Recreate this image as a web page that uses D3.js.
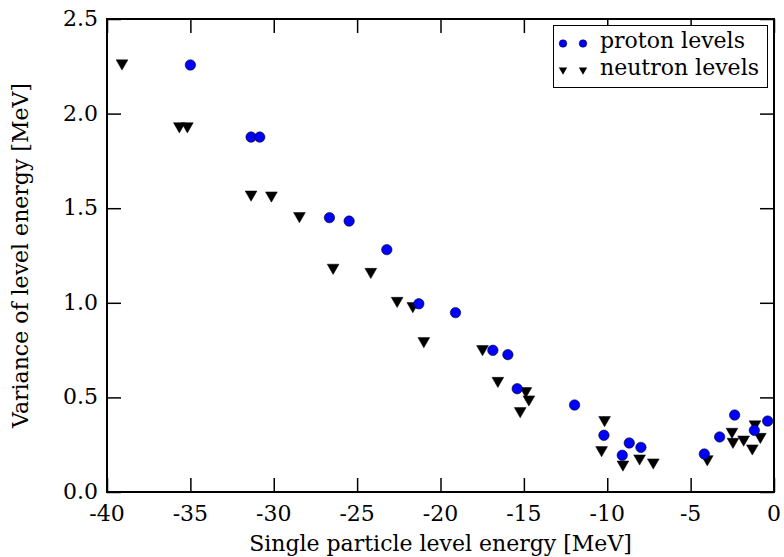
<!DOCTYPE html>
<html>
<head>
<meta charset="utf-8">
<script src="https://cdn.jsdelivr.net/npm/d3@7"></script>
</head>
<body style="margin: 0; background: #fff;">
<svg width="784" height="557"></svg>
<script>
// proton levels: single particle energy (MeV) and variance (MeV)
const protonE = [-35.0, -31.36, -30.84, -26.66, -25.48, -23.22, -21.3, -19.1, -16.86, -15.96,
  -15.4, -11.96, -10.2, -9.1, -8.68, -7.98, -4.18, -3.26, -2.36, -1.18, -0.38];
const protonVar = [2.257, 1.876, 1.876, 1.450, 1.432, 1.281, 0.995, 0.948, 0.749, 0.726,
  0.546, 0.460, 0.300, 0.194, 0.259, 0.236, 0.201, 0.291, 0.407, 0.326, 0.375];

// neutron levels
const neutronE = [-39.1, -35.66, -35.18, -31.36, -30.14, -28.46, -26.44, -24.18, -22.6, -21.66,
  -21.0, -17.48, -16.56, -15.22, -14.88, -14.7, -10.16, -10.34, -9.06, -8.06,
  -7.24, -4.0, -2.52, -2.46, -1.82, -1.3, -1.14, -0.82];
const neutronVar = [2.266, 1.934, 1.934, 1.573, 1.568, 1.459, 1.186, 1.164, 1.011, 0.983,
  0.798, 0.756, 0.588, 0.428, 0.534, 0.490, 0.381, 0.222, 0.146, 0.178,
  0.157, 0.174, 0.319, 0.266, 0.278, 0.231, 0.358, 0.292];

const xTicks = [-40, -35, -30, -25, -20, -15, -10, -5, 0];
const yTicks = [0.0, 0.5, 1.0, 1.5, 2.0, 2.5];

const svg = d3.select('svg');
const margin = { left: 107, right: 10, top: 19, bottom: 65 };
const width = 784, height = 557;

const x = d3.scaleLinear().domain([-40, 0]).range([margin.left, width - margin.right]);
const y = d3.scaleLinear().domain([0, 2.5]).range([height - margin.bottom, margin.top]);

const tickLen = 14;

// inward ticks on all four sides, no labels from the axis itself
const addAxis = (axis, tx, ty) => {
  const g = svg.append('g')
    .attr('transform', `translate(${tx},${ty})`)
    .call(axis.tickFormat(''));
  g.select('.domain').remove();
  g.selectAll('line').attr('stroke', '#000').attr('stroke-width', 1.5);
  return g;
};
addAxis(d3.axisBottom(x).tickValues(xTicks).tickSize(-tickLen), 0, y(0));
addAxis(d3.axisTop(x).tickValues(xTicks).tickSize(-tickLen), 0, y(2.5));
addAxis(d3.axisLeft(y).tickValues(yTicks).tickSize(-tickLen), x(-40), 0);
addAxis(d3.axisRight(y).tickValues(yTicks).tickSize(-tickLen), x(0), 0);

const label = (tx, ty, str, anchor) => svg.append('text')
  .attr('x', tx).attr('y', ty)
  .attr('font-size', 22)
  .attr('text-anchor', anchor || 'start')
  .style('font-family', '"DejaVu Serif"')
  .text(str);

// tick labels
xTicks.forEach(t => label(x(t), y(0) + 29, t, 'middle'));
yTicks.forEach(t => label(x(-40) - 9, y(t) + 7, d3.format('.1f')(t), 'end'));

// frame
svg.append('rect')
  .attr('x', x(-40)).attr('y', y(2.5))
  .attr('width', x(0) - x(-40)).attr('height', y(0) - y(2.5))
  .attr('fill', 'none').attr('stroke', '#000').attr('stroke-width', 2);

// axis titles
label((x(-40) + x(0)) / 2, 551, 'Single particle level energy [MeV]', 'middle');
label(0, 0, 'Variance of level energy [MeV]', 'middle')
  .attr('transform', `translate(28, ${(y(0) + y(2.5)) / 2}) rotate(-90)`);

// markers
const tri = d3.symbol().type(d3.symbolTriangle).size(60);
const triDown = (cx, cy) => `translate(${cx},${cy}) rotate(180)`;

const neutrons = neutronE.map((e, i) => ({ e, v: neutronVar[i] }));
const protons = protonE.map((e, i) => ({ e, v: protonVar[i] }));

svg.append('g').selectAll('path').data(neutrons)
  .enter().append('path')
    .attr('d', tri)
    .attr('transform', d => triDown(x(d.e), y(d.v)))
    .attr('fill', '#000')
    .attr('stroke', '#000')
    .attr('stroke-width', 0.5);

svg.append('g').selectAll('circle').data(protons)
  .enter().append('circle')
    .attr('cx', d => x(d.e))
    .attr('cy', d => y(d.v))
    .attr('r', 5.2)
    .attr('fill', '#0000ff')
    .attr('stroke', '#000')
    .attr('stroke-width', 0.6);

// legend
svg.append('rect')
  .attr('x', 553.5).attr('y', 25.5)
  .attr('width', 214).attr('height', 62)
  .attr('fill', '#fff').attr('stroke', '#000').attr('stroke-width', 1);

[563, 583].forEach(cx => {
  svg.append('circle')
    .attr('cx', cx).attr('cy', 43.5).attr('r', 3.8)
    .attr('fill', '#0000ff').attr('stroke', '#000').attr('stroke-width', 0.5);
  svg.append('path')
    .attr('d', d3.symbol().type(d3.symbolTriangle).size(30))
    .attr('transform', triDown(cx, 70))
    .attr('fill', '#000');
});
label(600, 48, 'proton levels');
label(600, 75, 'neutron levels');
</script>
</body>
</html>
